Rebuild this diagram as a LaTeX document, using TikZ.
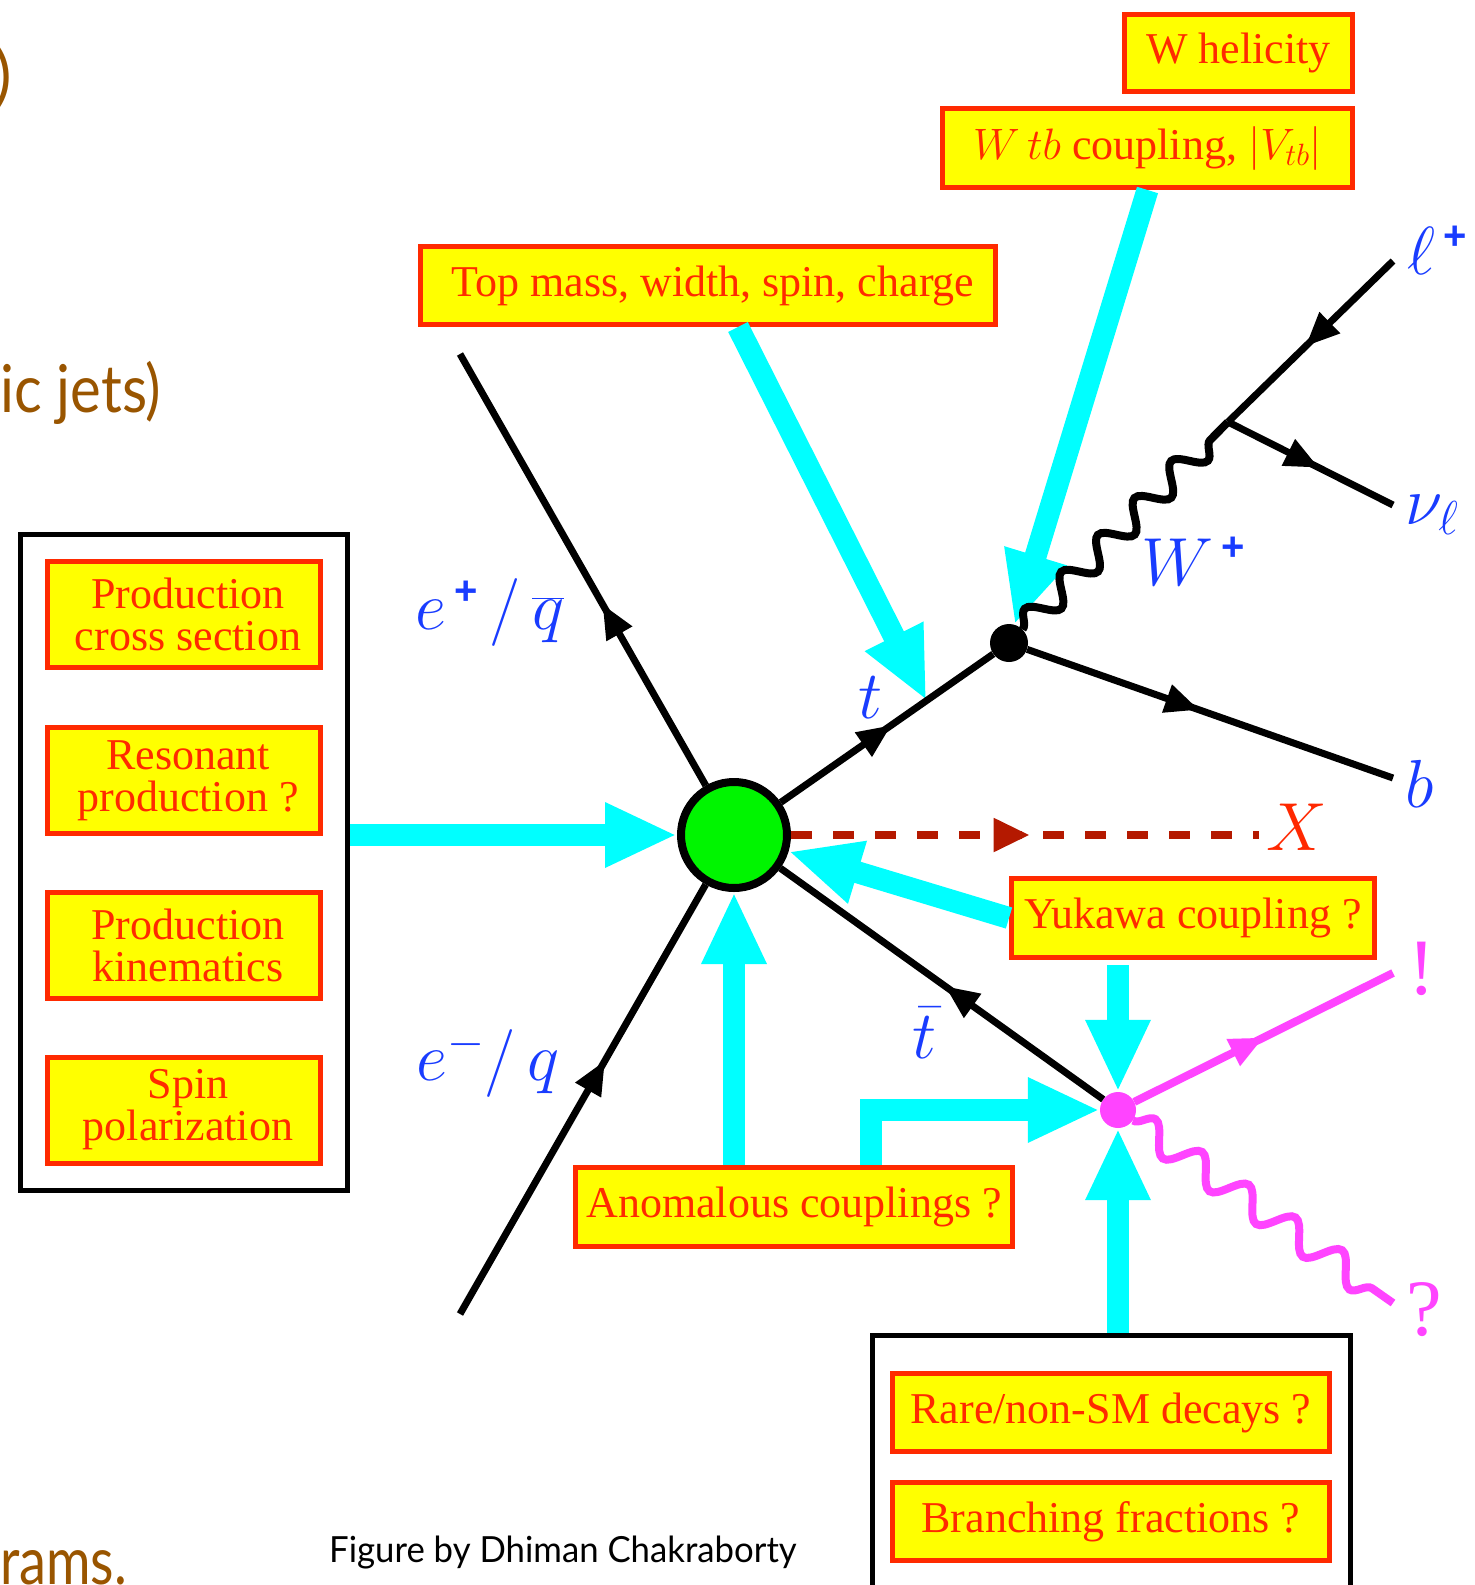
\RequirePackage{fix-cm}
\documentclass[tikz,border=0pt]{standalone}
\usepackage{fontspec}
\setmainfont{Liberation Serif}
\newfontfamily\gillfont{Lato}
\newfontfamily\plusfont{Liberation Sans}
\usetikzlibrary{arrows.meta,decorations.markings,decorations.pathmorphing,calc}
\definecolor{boxyellow}{RGB}{255,255,0}
\definecolor{boxred}{RGB}{255,42,0}
\definecolor{cyanarr}{RGB}{0,255,255}
\definecolor{lblue}{RGB}{25,60,255}
\definecolor{magen}{RGB}{255,68,255}
\definecolor{xred}{RGB}{180,25,0}
\definecolor{xlabel}{RGB}{255,40,0}
\definecolor{slidebrown}{RGB}{153,85,0}
\definecolor{blobgreen}{RGB}{0,245,0}
\newcommand{\bplus}{\mbox{\plusfont\bfseries\fontsize{40}{40}\selectfont +}}
\begin{document}
\begin{tikzpicture}[x=1pt,y=-1pt,
  qbox/.style={draw=boxred, fill=boxyellow, line width=5pt, text=boxred,
    font=\fontsize{44}{42}\selectfont, inner sep=0pt, align=center},
  blackbox/.style={draw=black, line width=5pt, inner sep=0pt},
  lbl/.style={text=lblue, font=\fontsize{68}{70}\selectfont, inner sep=0pt},
  fermi/.style={draw=black, line width=7pt, postaction={decorate},
    decoration={markings, mark=at position #1 with {\arrow{Triangle[length=34pt,width=28pt]}}}},
  cyarr/.style={draw=cyanarr, line width=22pt, -{Triangle[length=72pt,width=60pt]}},
  wavy/.style={draw=black, line width=8pt, decorate,
    decoration={snake, segment length=52pt, amplitude=13pt}},
  brownt/.style={text=slidebrown, font=\gillfont\fontsize{66}{70}\selectfont, inner sep=0pt}
]
\useasboundingbox (0,0) rectangle (1475,1585);
\fill[white] (0,0) rectangle (1475,1585);

% slide remnants
\node[brownt, anchor=east] (paren) at (12,78) {)};
\node[brownt, anchor=base west] (jets) at (0,412) {\scalebox{0.88}[1]{ic jets)}};
\node[brownt, anchor=base west] (rams) at (0,1584) {\scalebox{0.82}[1]{rams.}};
\node[anchor=base west, inner sep=0pt, font=\gillfont\fontsize{36}{40}\selectfont] (credit) at (329,1562) {\scalebox{0.965}[1]{Figure by Dhiman Chakraborty}};

% vertices
\node[circle, draw=black, line width=8pt, fill=blobgreen, minimum size=106pt, inner sep=0pt] (blob) at (734,835) {};
\node[circle, fill=black, minimum size=38pt, inner sep=0pt] (tv) at (1009,643) {};
\node[circle, fill=magen, minimum size=36pt, inner sep=0pt] (mv) at (1118,1110) {};

\coordinate (ep) at (460,354);
\coordinate (em) at (460,1314);
\coordinate (bq) at (1393,778);
\coordinate (wj) at (1228,422);
\coordinate (lp) at (1393,261);
\coordinate (nu) at (1393,505);
\coordinate (xe) at (1259,835);
\coordinate (ex) at (1393,973);
\coordinate (qe) at (1393,1303);

% boxes
\node[blackbox, minimum width=327pt, minimum height=656pt] (leftbox) at (184,862.5) {};
\node[blackbox, minimum width=478pt, minimum height=280pt] (botbox) at (1111.5,1475) {};

\node[qbox, minimum width=228pt, minimum height=77pt] (wh) at (1238.5,53) {W helicity};
\node[qbox, minimum width=410pt, minimum height=79pt] (wtb) at (1147.5,148) {$W\,tb$ coupling, $|V_{tb}|$};
\node[qbox, minimum width=575pt, minimum height=78pt] (topm) at (708,285.5) {\hspace*{10pt}Top mass, width, spin, charge};
\node[qbox, minimum width=363pt, minimum height=79pt] (yuk) at (1193,918) {Yukawa coupling ?};
\node[qbox, minimum width=437pt, minimum height=79pt] (anom) at (794,1207) {Anomalous couplings ?};
\node[qbox, minimum width=273pt, minimum height=106pt] (lb1) at (184,614.5) {\hspace*{8pt}Production\\\hspace*{8pt}cross section};
\node[qbox, minimum width=273pt, minimum height=106pt] (lb2) at (184,780.5) {\hspace*{8pt}Resonant\\\hspace*{8pt}production ?};
\node[qbox, minimum width=273pt, minimum height=106pt] (lb3) at (184,945.5) {\hspace*{8pt}Production\\\hspace*{8pt}kinematics};
\node[qbox, minimum width=273pt, minimum height=106pt] (lb4) at (184,1110) {\hspace*{8pt}Spin\\\hspace*{8pt}polarization};
\node[qbox, minimum width=437pt, minimum height=78pt] (rare) at (1111,1412.5) {Rare/non-SM decays ?};
\node[qbox, minimum width=437pt, minimum height=78pt] (bf) at (1111,1521.5) {Branching fractions ?};

% cyan arrows
\coordinate (tmid) at ($(blob.center)!0.70!(tv.center)$);
\draw[cyarr] (leftbox.east |- blob) -- (blob);
\draw[cyarr] ($(topm.south)+(30,0)$) -- (tmid);
\draw[cyarr] (wtb.south) -- (tv);
\draw[cyarr] (yuk.west) -- (blob);
\draw[cyarr] ($(mv |- yuk.south)+(0,5)$) -- (mv);
\draw[cyarr] (mv |- botbox.north) -- (mv);
\draw[cyarr] (blob |- anom.north) -- (blob);
\draw[cyarr] ($(anom.north)+(77,0)$) |- (mv.west);

% particle lines
\draw[fermi=0.42] (blob) -- (ep);
\draw[fermi=0.59] (em) -- (blob);
\draw[fermi=0.52] (blob) -- (tv);
\draw[fermi=0.47] (tv) -- (bq);
\draw[fermi=0.53] (lp) -- (wj);
\draw[fermi=0.55] (wj) -- (nu);
\draw[fermi=0.49] (mv) -- (blob);
\draw[fermi=0.5, draw=magen, line width=8pt] (mv) -- (ex);
\draw[draw=xred, line width=8pt, dash pattern=on 21pt off 21pt, postaction={decorate},
  decoration={markings, mark=at position 0.51 with {\arrow{Triangle[length=36pt,width=32pt]}}}] (blob) -- (xe);
\draw[wavy] (tv) -- (wj);
\draw[wavy, draw=magen, decoration={snake, segment length=57pt, amplitude=14pt}] (mv) -- (qe);

% labels
\node[lbl] (lepl) at (490,612) {$e^{\,\bplus}\,/\,\overline{q}$};
\node[lbl] (leml) at (488,1063) {$e^{-}/\,q$};
\node[lbl] (tl) at (871,698) {$t$};
\node[lbl] (tbl) at (925,1033) {$\bar{t}$};
\node[lbl] (wl) at (1193,561) {$W^{\,\bplus}$};
\node[lbl] (bl) at (1420,784) {$b$};
\node[lbl] (ll) at (1437,250) {$\ell^{\,\bplus}$};
\node[lbl] (nl) at (1432,515) {$\nu_{\ell}$};
\node[lbl, text=xlabel] (xl) at (1297,827) {$X$};
\node[text=magen, font=\fontsize{80}{80}\selectfont, inner sep=0pt] (excl) at (1422,969) {!};
\node[text=magen, font=\fontsize{80}{80}\selectfont, inner sep=0pt] (ques) at (1424,1310) {?};
\end{tikzpicture}
\end{document}
